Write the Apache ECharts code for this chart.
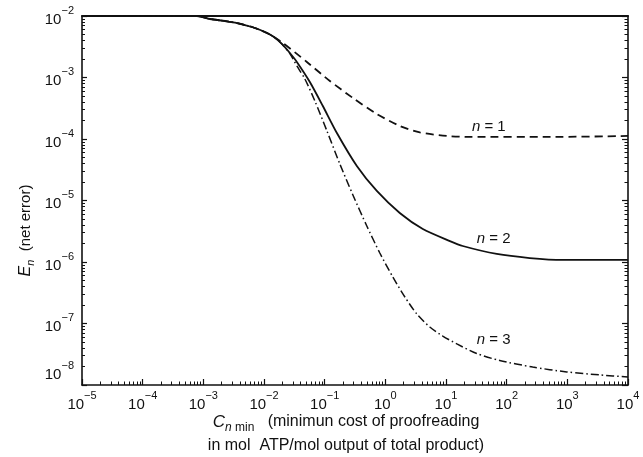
<!DOCTYPE html>
<html><head><meta charset="utf-8">
<script src="https://cdn.jsdelivr.net/npm/echarts@6/dist/echarts.min.js"></script>
<style>html,body{margin:0;padding:0;background:#fff}#c{width:643px;height:457px}</style>
</head><body><div id="c"></div>
<script>
// tick exponents (labels 10^e)
const xExps = [-5, -4, -3, -2, -1, 0, 1, 2, 3, 4];
const yExps = [-8, -7, -6, -5, -4, -3, -2];
const minorMult = [2, 3, 4, 5, 6, 7, 8, 9];

// n = 1 (dashed)
const n1X = [1e-5, 7.85e-4, 1.29e-3, 2.27e-3, 3.58e-3, 6.33e-3, 1.12e-2, 2.05e-2, 5.09e-2, 0.122, 0.292, 0.724, 1.73, 3.70, 10.3, 24.7, 513, 1e4];
const n1Y = [1e-2, 1e-2, 8.94e-3, 8.29e-3, 7.69e-3, 6.62e-3, 5.30e-3, 3.64e-3, 1.79e-3, 8.77e-4, 4.65e-4, 2.55e-4, 1.63e-4, 1.28e-4, 1.12e-4, 1.08e-4, 1.08e-4, 1.12e-4];
// n = 2 (solid)
const n2X = [1e-5, 7.85e-4, 1.29e-3, 2.27e-3, 3.58e-3, 6.33e-3, 1.04e-2, 1.46e-2, 1.97e-2, 2.67e-2, 3.48e-2, 5.70e-2, 9.33e-2, 0.159, 0.339, 0.724, 1.73, 4.15, 11.6, 18.9, 68.7, 240, 840, 1e4];
const n2Y = [1e-2, 1e-2, 8.94e-3, 8.29e-3, 7.69e-3, 6.62e-3, 5.49e-3, 4.56e-3, 3.51e-3, 2.50e-3, 1.79e-3, 8.45e-4, 3.44e-4, 1.25e-4, 3.64e-5, 1.43e-5, 6.27e-6, 3.44e-6, 2.19e-6, 1.82e-6, 1.35e-6, 1.16e-6, 1.08e-6, 1.08e-6];
// n = 3 (dash-dot)
const n3X = [1e-5, 7.85e-4, 1.29e-3, 2.27e-3, 3.58e-3, 6.33e-3, 1.04e-2, 1.46e-2, 1.97e-2, 2.67e-2, 3.48e-2, 4.72e-2, 6.90e-2, 0.109, 0.178, 0.292, 0.495, 0.811, 1.33, 2.10, 3.30, 5.41, 8.85, 15.1, 32.1, 76.9, 269, 977, 3420, 1e4];
const n3Y = [1e-2, 1e-2, 8.94e-3, 8.29e-3, 7.69e-3, 6.62e-3, 5.49e-3, 4.56e-3, 3.51e-3, 2.45e-3, 1.54e-3, 9.46e-4, 4.15e-4, 1.35e-4, 3.92e-5, 1.23e-5, 3.85e-6, 1.40e-6, 5.70e-7, 2.70e-7, 1.43e-7, 8.77e-8, 6.26e-8, 4.65e-8, 3.25e-8, 2.50e-8, 1.96e-8, 1.63e-8, 1.46e-8, 1.35e-8];

// curve labels
const curveLabels = ['1', '2', '3'];
const labelX = [50.7, 61, 61];
const labelY = [1.57e-4, 2.37e-6, 5.4e-8];

const FONT = 'Liberation Sans';
const INK = '#111';

const zip = (xs, ys) => xs.map((x, i) => [x, ys[i]]);
const expText = e => (e < 0 ? '\u2212' + (-e) : '' + e);
const majorVals = exps => exps.map(e => Math.pow(10, e));
const minorVals = exps => {
  const out = [];
  for (let i = 0; i < exps.length - 1; i++) minorMult.forEach(m => out.push(m * Math.pow(10, exps[i])));
  return out;
};

const powRich = {
  b: { fontFamily: FONT, fontSize: 15, color: INK, lineHeight: 22, verticalAlign: 'bottom' },
  s: { fontFamily: FONT, fontSize: 11, color: INK, lineHeight: 13, verticalAlign: 'top' },
  g: { fontSize: 10, lineHeight: 28 }
};

const xMin = Math.pow(10, xExps[0]), xMax = Math.pow(10, xExps[xExps.length - 1]);
const yMin = Math.pow(10, yExps[0]), yMax = Math.pow(10, yExps[yExps.length - 1]);

function baseAxis(min, max) {
  return { type: 'log', logBase: 10, min: min, max: max, splitLine: { show: false } };
}

const xAxes = [
  Object.assign(baseAxis(xMin, xMax), {
    position: 'bottom',
    axisLine: { show: true, lineStyle: { color: INK, width: 1.6 } },
    axisTick: { show: true, inside: true, length: 6, lineStyle: { color: INK, width: 1.2 }, customValues: majorVals(xExps) },
    axisLabel: {
      show: true, margin: 5, customValues: majorVals(xExps),
      formatter: v => '{b|10}{s|' + expText(Math.round(Math.log10(v))) + '}',
      rich: powRich
    },
    name: '{i|C}{si|n}{sub| min}{t|   (minimun cost of proofreading}\n{t|in mol  ATP/mol output of total product)}',
    nameLocation: 'middle', nameGap: 25, nameMoveOverlap: false,
    nameTextStyle: {
      color: INK, fontFamily: FONT, fontSize: 16, lineHeight: 24, padding: [0, 18, 0, 0],
      rich: {
        i: { fontFamily: FONT, fontSize: 17, fontStyle: 'italic', color: INK, lineHeight: 24, align: 'center' },
        si: { fontFamily: FONT, fontSize: 12, fontStyle: 'italic', color: INK, lineHeight: 19, verticalAlign: 'bottom', align: 'center' },
        sub: { fontFamily: FONT, fontSize: 12, color: INK, lineHeight: 19, verticalAlign: 'bottom', align: 'center' },
        t: { fontFamily: FONT, fontSize: 16, color: INK, lineHeight: 24, align: 'center' }
      }
    }
  }),
  Object.assign(baseAxis(xMin, xMax), {
    position: 'bottom',
    axisLine: { show: false },
    axisTick: { show: true, inside: true, length: 3.5, lineStyle: { color: INK, width: 1 }, customValues: minorVals(xExps) },
    axisLabel: { show: false }
  }),
  Object.assign(baseAxis(xMin, xMax), {
    position: 'top',
    axisLine: { show: true, lineStyle: { color: INK, width: 2 } },
    axisTick: { show: false },
    axisLabel: { show: false }
  })
];

const yAxes = [
  Object.assign(baseAxis(yMin, yMax), {
    position: 'left',
    axisLine: { show: true, lineStyle: { color: INK, width: 1.6 } },
    axisTick: { show: true, inside: true, length: 5, lineStyle: { color: INK, width: 1.2 }, customValues: majorVals(yExps) },
    axisLabel: {
      show: true, margin: 8, customValues: majorVals(yExps),
      formatter: v => {
        const e = Math.round(Math.log10(v));
        const t = '{b|10}{s|' + expText(e) + '}';
        return e === yExps[0] ? t + '\n{g| }' : t;
      },
      rich: powRich
    },
    name: '{i|E}{sub|n}{t|  (net error)}',
    nameLocation: 'middle', nameGap: 46, nameMoveOverlap: false,
    nameTextStyle: {
      color: INK, fontFamily: FONT, fontSize: 15, padding: [0, 60, 0, 0],
      rich: {
        i: { fontFamily: FONT, fontSize: 16, fontStyle: 'italic', color: INK, lineHeight: 21 },
        sub: { fontFamily: FONT, fontSize: 11, fontStyle: 'italic', color: INK, lineHeight: 14, verticalAlign: 'bottom' },
        t: { fontFamily: FONT, fontSize: 15, color: INK, lineHeight: 21 }
      }
    }
  }),
  Object.assign(baseAxis(yMin, yMax), {
    position: 'left',
    axisLine: { show: false },
    axisTick: { show: true, inside: true, length: 3, lineStyle: { color: INK, width: 1 }, customValues: minorVals(yExps) },
    axisLabel: { show: false }
  }),
  Object.assign(baseAxis(yMin, yMax), {
    position: 'right',
    axisLine: { show: true, lineStyle: { color: INK, width: 1.6 } },
    axisTick: { show: true, inside: true, length: 6, lineStyle: { color: INK, width: 1.2 }, customValues: majorVals(yExps) },
    axisLabel: { show: false }
  }),
  Object.assign(baseAxis(yMin, yMax), {
    position: 'right',
    axisLine: { show: false },
    axisTick: { show: true, inside: true, length: 3.5, lineStyle: { color: INK, width: 1 }, customValues: minorVals(yExps) },
    axisLabel: { show: false }
  })
];

function lineSeries(xs, ys, type, width, idx) {
  return {
    type: 'line', xAxisIndex: 0, yAxisIndex: 0,
    data: zip(xs, ys), smooth: 0.25, showSymbol: false, symbol: 'none',
    clip: false,
    lineStyle: { color: INK, width: width, type: type },
    markPoint: {
      symbol: 'circle', symbolSize: 0, silent: true,
      data: [{ coord: [labelX[idx], labelY[idx]] }],
      label: {
        show: true, position: 'inside',
        formatter: '{i|n}{t| = ' + curveLabels[idx] + '}',
        rich: {
          i: { fontFamily: FONT, fontSize: 15, fontStyle: 'italic', color: INK },
          t: { fontFamily: FONT, fontSize: 15, color: INK }
        }
      }
    }
  };
}

const chart = echarts.init(document.getElementById('c'), null, { renderer: 'canvas' });
chart.setOption({
  backgroundColor: '#fff',
  animation: false,
  grid: { left: 82, right: 15, top: 16, bottom: 72, containLabel: false, outerBoundsMode: 'none' },
  xAxis: xAxes,
  yAxis: yAxes,
  series: [
    lineSeries(n1X, n1Y, [8, 5], 1.8, 0),
    lineSeries(n2X, n2Y, 'solid', 1.8, 1),
    lineSeries(n3X, n3Y, [8, 3, 1.5, 3], 1.5, 2)
  ]
});
</script></body></html>
